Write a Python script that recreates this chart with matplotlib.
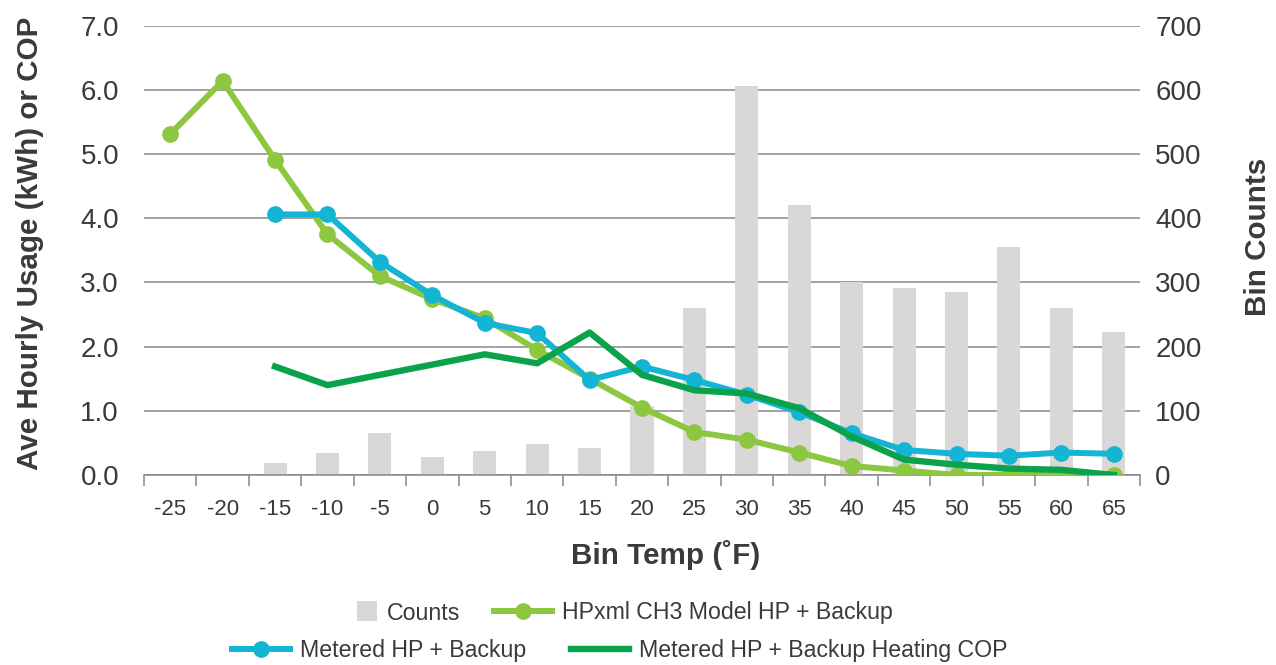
import matplotlib
matplotlib.use("Agg")
import matplotlib.pyplot as plt
import numpy as np
from matplotlib.lines import Line2D
from matplotlib.patches import Rectangle
from matplotlib.legend_handler import HandlerPatch

plt.rcParams["font.family"] = ["Liberation Sans", "DejaVu Sans"]

# ---- data -------------------------------------------------------------
bin_temps = [-25, -20, -15, -10, -5, 0, 5, 10, 15, 20, 25, 30, 35, 40, 45, 50, 55, 60, 65]
bin_counts = [0, 0, 19, 35, 65, 28, 38, 48, 42, 108, 260, 606, 421, 300, 292, 285, 355, 260, 223]
hpxml_model = [5.31, 6.14, 4.91, 3.75, 3.10, 2.74, 2.44, 1.95, 1.50, 1.05, 0.67, 0.55,
               0.35, 0.14, 0.07, 0.0, 0.0, 0.0, 0.0]
metered_usage = [np.nan, np.nan, 4.06, 4.06, 3.32, 2.80, 2.37, 2.21, 1.48, 1.69, 1.48, 1.25,
                 0.98, 0.65, 0.39, 0.33, 0.30, 0.35, 0.33]
metered_cop = [np.nan, np.nan, 1.69, 1.40, 1.56, 1.72, 1.88, 1.74, 2.22, 1.56, 1.32, 1.27,
               1.04, 0.60, 0.24, 0.16, 0.10, 0.08, 0.0]
left_ticks = [0, 1, 2, 3, 4, 5, 6, 7]
right_ticks = [0, 100, 200, 300, 400, 500, 600, 700]

# ---- style ------------------------------------------------------------
C_BAR = "#d9d7d8"
C_MODEL = "#8dc63f"
C_METER = "#14b4d4"
C_COP = "#0aa34b"
C_GRID = "#878787"
C_TEXT = "#3a3a3a"

W, H = 1276, 665
fig = plt.figure(figsize=(W / 100, H / 100), dpi=100)
x0, x1, y_top, y_bot = 144, 1140, 25.7, 475
ax2 = fig.add_axes([x0 / W, 1 - y_bot / H, (x1 - x0) / W, (y_bot - y_top) / H])
ax = ax2.twinx()
ax.yaxis.tick_left()
ax2.yaxis.tick_right()

pos = np.arange(len(bin_temps))

# counts as bars on the right-hand axis, drawn over the gridlines
ax2.bar(pos, bin_counts, width=0.44, color=C_BAR, zorder=2)
ax2.set_ylim(0, 700)
ax2.set_yticks(right_ticks)
ax2.set_yticklabels([str(t) for t in right_ticks])
ax2.set_axisbelow(True)
ax2.yaxis.grid(True, color=C_GRID, linewidth=1.1)
ax2.tick_params(axis="y", length=0, pad=11, labelsize=20, labelcolor=C_TEXT)
ax2.tick_params(axis="x", which="both", bottom=False, labelbottom=False)

# usage / COP lines on the left-hand axis
ax.plot(pos, hpxml_model, color=C_MODEL, lw=4.3, marker="o", ms=11, zorder=3,
        solid_capstyle="round")
ax.plot(pos, metered_usage, color=C_METER, lw=4.3, marker="o", ms=11, zorder=4,
        solid_capstyle="round")
ax.plot(pos, metered_cop, color=C_COP, lw=4.6, zorder=5)
ax.set_ylim(0, 7)
ax.set_yticks(left_ticks)
ax.set_yticklabels([f"{t:.1f}" for t in left_ticks])
ax.tick_params(axis="y", length=0, pad=18, labelsize=20, labelcolor=C_TEXT)

ax.set_zorder(ax2.get_zorder() + 1)
ax.patch.set_visible(False)
ax2.patch.set_visible(False)

ax.set_xlim(-0.5, len(bin_temps) - 0.5)
ax.xaxis.set_visible(True)
ax.set_xticks(pos)
ax.set_xticklabels([str(t) for t in bin_temps])
ax.set_xticks(np.arange(-0.5, len(bin_temps), 1.0), minor=True)
ax.tick_params(axis="x", which="major", length=0, pad=17, labelsize=16, labelcolor=C_TEXT,
               bottom=True, labelbottom=True)
ax.tick_params(axis="x", which="minor", length=8, width=1.1, color=C_GRID, direction="out",
               bottom=True)

for a in (ax, ax2):
    for side in ("top", "left", "right", "bottom"):
        a.spines[side].set_visible(False)
ax.spines["bottom"].set_visible(True)
ax.spines["bottom"].set_color(C_GRID)
ax.spines["bottom"].set_linewidth(1.1)

# axis titles
fig.text(30 / W, 1 - 243 / H, "Ave Hourly Usage (kWh) or COP", rotation=90,
         ha="center", va="center", fontsize=21.3, fontweight="bold", color=C_TEXT)
fig.text(1258 / W, 1 - 237 / H, "Bin Counts", rotation=90,
         ha="center", va="center", fontsize=21.3, fontweight="bold", color=C_TEXT)
fig.text(666 / W, 1 - 555 / H, "Bin Temp (\u02daF)", ha="center", va="center",
         fontsize=21.3, fontweight="bold", color=C_TEXT)


# square swatch at the right end of the legend handle box
class SquareHandler(HandlerPatch):
    def create_artists(self, legend, orig_handle, xdescent, ydescent, width, height,
                       fontsize, trans):
        s = 14.4
        p = Rectangle((width - s - xdescent, (height - s) / 2 - ydescent), s, s,
                      facecolor=orig_handle.get_facecolor(), edgecolor="none",
                      transform=trans)
        return [p]


h_counts = Rectangle((0, 0), 1, 1, facecolor=C_BAR)
h_model = Line2D([], [], color=C_MODEL, lw=4.3, marker="o", ms=11)
h_meter = Line2D([], [], color=C_METER, lw=4.3, marker="o", ms=11)
h_cop = Line2D([], [], color=C_COP, lw=4.6)

common = dict(frameon=False, fontsize=16.7, handlelength=2.5, handletextpad=0.43,
              borderpad=0, borderaxespad=0, numpoints=1, ncol=2, loc="center left",
              bbox_transform=fig.transFigure, labelcolor=C_TEXT)
fig.legend([h_counts, h_model], ["Counts", "HPxml CH3 Model HP + Backup"],
           bbox_to_anchor=(319 / W, 1 - 613 / H), columnspacing=1.47,
           handler_map={Rectangle: SquareHandler()}, **common)
fig.legend([h_meter, h_cop], ["Metered HP + Backup", "Metered HP + Backup Heating COP"],
           bbox_to_anchor=(232 / W, 1 - 651 / H), columnspacing=1.94, **common)

fig.savefig("out.png", dpi=100, facecolor="white")
